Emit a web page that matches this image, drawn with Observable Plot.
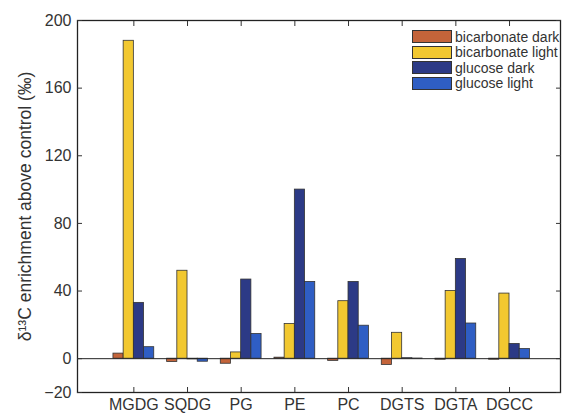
<!DOCTYPE html>
<html>
<head>
<meta charset="utf-8">
<script src="https://cdn.jsdelivr.net/npm/d3@7"></script>
<script src="https://cdn.jsdelivr.net/npm/@observablehq/plot@0.6"></script>
<style>
  html, body { margin: 0; padding: 0; background: #fff; }
  #wrap { position: relative; width: 562px; height: 413px; font-family: "Liberation Sans", Arial, sans-serif; }
  #legend { position: absolute; left: 412px; top: 29px; font-size: 14px; color: #333; white-space: nowrap; }
  .row { display: flex; align-items: center; height: 15.5px; }
  .sw { width: 38px; height: 11px; border: 1px solid #333; margin-right: 3px; box-sizing: content-box; flex: none; }
</style>
</head>
<body>
<div id="wrap"></div>
<script>
const categories = ["MGDG", "SQDG", "PG", "PE", "PC", "DGTS", "DGTA", "DGCC"];
const seriesNames = ["bicarbonate dark", "bicarbonate light", "glucose dark", "glucose light"];
const bicarbonateDark  = [3.0, -2.0, -3.0, 0.6, -1.3, -3.7, -0.6, -0.6];
const bicarbonateLight = [188, 52, 3.7, 20.5, 34, 15.3, 40, 38.5];
const glucoseDark      = [33, -0.4, 46.8, 100, 45.4, 0.3, 59, 8.7];
const glucoseLight     = [6.8, -1.8, 14.6, 45.4, 19.5, 0.1, 20.8, 5.7];
const colors = ["#c4643a", "#f2c830", "#2c3a86", "#2f5ec4"];
const yTicks = [-20, 0, 40, 80, 120, 160, 200];
const yLabel = "δ¹³C enrichment above control (‰)";

const seriesValues = [bicarbonateDark, bicarbonateLight, glucoseDark, glucoseLight];
const data = [];
categories.forEach((c, i) => {
  seriesValues.forEach((vals, s) => {
    data.push({cat: c, ci: i + 1, s, series: seriesNames[s], value: vals[i]});
  });
});

const groupWidth = 0.76, barW = groupWidth / 4;
const xTicks = categories.map((c, i) => i + 1);

const chart = Plot.plot({
  width: 562,
  height: 413,
  marginLeft: 77,
  marginRight: 2,
  marginTop: 20,
  marginBottom: 21,
  style: {fontFamily: "'Liberation Sans', Arial, sans-serif", fontSize: "16px", color: "#333", background: "white"},
  x: {domain: [-0.05, 8.95]},
  y: {domain: [-20, 200]},
  color: {domain: seriesNames, range: colors},
  marks: [
    Plot.rect(data, {
      x1: d => d.ci - groupWidth / 2 + d.s * barW,
      x2: d => d.ci - groupWidth / 2 + (d.s + 1) * barW,
      y1: 0,
      y2: "value",
      fill: "series",
      stroke: "#333",
      strokeWidth: 0.8
    }),
    Plot.ruleY([0], {stroke: "#222", strokeWidth: 1}),
    Plot.frame({stroke: "#222", strokeWidth: 1.3}),
    Plot.axisY({ticks: yTicks, tickSize: -5, tickPadding: 11, fontSize: 16, label: null}),
    Plot.axisY({ticks: [], tickSize: 0, fontSize: 17.5,
      label: yLabel, labelArrow: "none", labelAnchor: "center", labelOffset: 59}),
    Plot.axisY({anchor: "right", ticks: yTicks, tickSize: -5, tickFormat: () => "", label: null}),
    Plot.axisX({ticks: xTicks, tickSize: -5, tickPadding: 11, fontSize: 16,
      tickFormat: d => categories[d - 1], label: null}),
    Plot.axisX({anchor: "top", ticks: xTicks, tickSize: -5, tickFormat: () => "", label: null})
  ]
});

const wrap = document.getElementById("wrap");
wrap.appendChild(chart);

const legend = document.createElement("div");
legend.id = "legend";
seriesNames.forEach((name, i) => {
  const row = document.createElement("div");
  row.className = "row";
  const sw = document.createElement("div");
  sw.className = "sw";
  sw.style.background = colors[i];
  const t = document.createElement("span");
  t.textContent = name;
  row.appendChild(sw);
  row.appendChild(t);
  legend.appendChild(row);
});
wrap.appendChild(legend);
</script>
</body>
</html>
